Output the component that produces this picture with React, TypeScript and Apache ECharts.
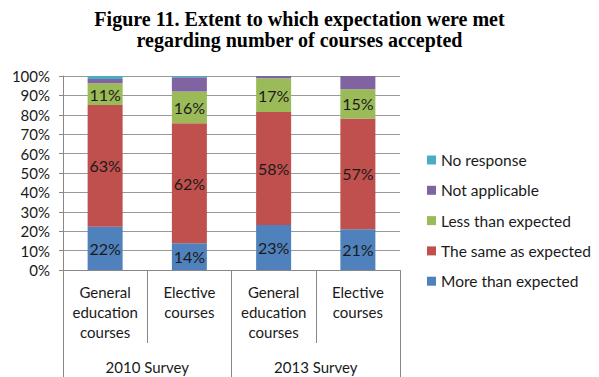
import React, { useEffect, useRef } from 'react';
import * as echarts from 'echarts';

const categories = ['General\neducation\ncourses', 'Elective\ncourses', 'General\neducation\ncourses', 'Elective\ncourses'];
const surveys = ['2010 Survey', '2013 Survey'];
const moreThan = [22.3, 13.8, 23.2, 21.0];
const sameAs = [62.7, 61.9, 58.2, 57.1];
const lessThan = [11.2, 16.3, 17.4, 15.1];
const notApplicable = [2.2, 7.3, 1.2, 6.8];
const noResponse = [1.6, 0.7, 0, 0];
const seriesNames = ['More than expected', 'The same as expected', 'Less than expected', 'Not applicable', 'No response'];
const legendOrder = ['No response', 'Not applicable', 'Less than expected', 'The same as expected', 'More than expected'];
const colors = ['#4F81BD', '#C0504D', '#9BBB59', '#8064A2', '#4BACC6'];
const titleText = 'Figure 11. Extent to which expectation were met\nregarding number of courses accepted';

const FONT = 'Lato, "Liberation Sans", sans-serif';

export default function App() {
  const ref = useRef<HTMLDivElement>(null);
  useEffect(() => {
    if (!ref.current) return;
    const chart = echarts.init(ref.current, null, { renderer: 'svg' });
    const values = [moreThan, sameAs, lessThan, notApplicable, noResponse];
    chart.setOption({
      animation: false,
      color: colors,
      title: {
        text: titleText,
        left: 'center',
        top: 8,
        padding: 0,
        textStyle: { fontFamily: '"Liberation Serif", serif', fontWeight: 'bold', fontSize: 20, lineHeight: 21, color: '#000' },
      },
      legend: {
        orient: 'vertical',
        left: 427,
        top: 151,
        itemWidth: 9,
        itemHeight: 9,
        itemGap: 12.3,
        icon: 'rect',
        padding: 0,
        data: legendOrder,
        textStyle: { fontFamily: FONT, fontSize: 15.5, lineHeight: 18, color: '#1a1a1a' },
      },
      grid: { left: 63, right: 199, top: 76, bottom: 107, containLabel: false },
      xAxis: [
        {
          type: 'category',
          data: categories,
          position: 'bottom',
          axisLine: { show: true, lineStyle: { color: '#888' } },
          axisTick: { show: true, interval: 0, length: 73, lineStyle: { color: '#888' } },
          axisLabel: { interval: 0, margin: 12, fontFamily: FONT, fontSize: 15, lineHeight: 20, color: '#1a1a1a' },
        },
        {
          type: 'category',
          data: surveys,
          position: 'bottom',
          axisLine: { show: false },
          axisTick: { show: true, interval: 0, length: 107, lineStyle: { color: '#888' } },
          axisLabel: { interval: 0, margin: 87, fontFamily: FONT, fontSize: 15, lineHeight: 20, color: '#1a1a1a' },
        },
      ],
      yAxis: {
        type: 'value',
        min: 0,
        max: 100,
        interval: 10,
        axisLine: { show: true, lineStyle: { color: '#888' } },
        axisTick: { show: true, length: 4, lineStyle: { color: '#888' } },
        splitLine: { show: true, lineStyle: { color: '#999' } },
        axisLabel: { formatter: '{value}%', margin: 13, fontFamily: FONT, fontSize: 15, color: '#1a1a1a' },
      },
      series: seriesNames.map((name, i) => ({
        name,
        type: 'bar',
        stack: 'total',
        xAxisIndex: 0,
        barWidth: 35,
        data: values[i],
        label: {
          show: i < 3,
          position: 'inside',
          fontFamily: FONT,
          fontSize: 16,
          color: '#1a1a1a',
          formatter: (p: any) => Math.round(p.value) + '%',
        },
      })),
    });
    return () => chart.dispose();
  }, []);
  return <div ref={ref} style={{ position: 'absolute', left: 0, top: 0, width: 599, height: 377 }} />;
}
